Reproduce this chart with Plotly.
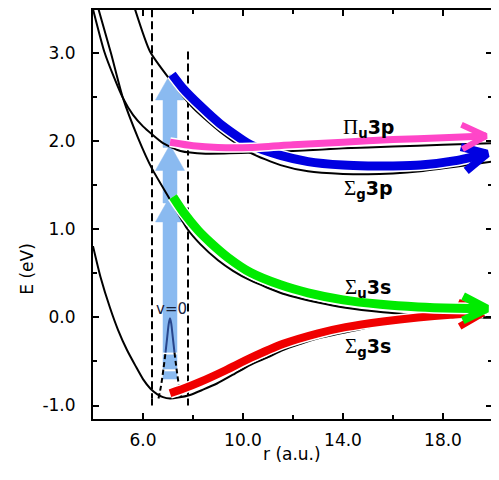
import math
import plotly.graph_objects as go

# ---------------- data ----------------
# potential curves: r (a.u.), E (eV)
r_sg3s = [4.0, 4.3, 4.68, 5.0, 5.36, 5.7, 6.0, 6.3, 6.56, 6.8, 7.08, 7.4, 7.88, 8.4, 8.96, 9.6, 10.28, 11.0, 11.6, 12.3, 12.96, 14.08, 15.6, 16.96, 18.04, 20.0]
E_sg3s = [0.81, 0.46, 0.11, -0.14, -0.37, -0.55, -0.70, -0.81, -0.87, -0.905, -0.92, -0.91, -0.88, -0.82, -0.75, -0.65, -0.54, -0.45, -0.37, -0.30, -0.24, -0.17, -0.08, -0.03, -0.01, 0.0]

r_su3s = [4.22, 4.72, 5.2, 5.8, 6.36, 7.08, 7.76, 8.3, 9.0, 9.6, 10.3, 11.6, 13.0, 14.1, 15.6, 17.0, 18.3, 20.0]
E_su3s = [3.50, 3.00, 2.49, 2.04, 1.69, 1.34, 1.01, 0.83, 0.65, 0.53, 0.42, 0.27, 0.17, 0.11, 0.06, 0.03, 0.01, 0.0]

r_pu3p = [4.0, 4.45, 4.85, 5.2, 5.6, 6.0, 6.36, 6.8, 7.5, 8.5, 10.3, 12.0, 14.0, 16.0, 18.0, 20.0]
E_pu3p = [3.50, 3.02, 2.72, 2.49, 2.30, 2.17, 2.08, 1.98, 1.89, 1.86, 1.87, 1.89, 1.92, 1.94, 1.96, 1.98]

r_sg3p = [5.68, 6.28, 7.08, 8.0, 9.08, 10.3, 11.5, 12.6, 14.0, 15.0, 16.0, 17.1, 18.5, 20.0]
E_sg3p = [3.50, 3.02, 2.70, 2.38, 2.11, 1.87, 1.73, 1.66, 1.63, 1.625, 1.635, 1.66, 1.71, 1.77]

# coloured dissociation arrows
r_blue = [7.16, 7.6, 8.3, 9.08, 10.3, 11.5, 12.6, 14.0, 15.0, 16.0, 17.1, 18.5, 19.76]
E_blue = [2.76, 2.60, 2.40, 2.20, 1.96, 1.84, 1.77, 1.73, 1.72, 1.72, 1.73, 1.78, 1.86]

r_pink = [7.08, 8.0, 9.0, 10.3, 12.0, 14.0, 16.0, 18.0, 19.72]
E_pink = [1.99, 1.95, 1.93, 1.93, 1.96, 1.99, 2.02, 2.04, 2.06]

r_green = [7.2, 7.6, 8.2, 8.7, 9.4, 10.3, 11.5, 12.6, 14.0, 15.5, 17.0, 18.5, 19.76]
E_green = [1.37, 1.20, 0.99, 0.85, 0.68, 0.51, 0.37, 0.28, 0.20, 0.15, 0.12, 0.105, 0.10]

r_red = [7.08, 7.6, 8.3, 9.3, 10.3, 11.6, 13.0, 14.1, 15.6, 17.0, 18.3, 19.6]
E_red = [-0.86, -0.81, -0.73, -0.60, -0.46, -0.30, -0.18, -0.11, -0.045, 0.0, 0.03, 0.05]

# excitation (photon) arrows
photon_r = 7.08
photon_tail_E = [-0.70, 1.30, 1.93]
photon_tip_E = [1.375, 1.96, 2.76]
band_gap_E = [-0.41, -0.60]

# v=0 vibrational wavefunction
r_wave = [6.62, 6.72, 6.82, 6.90, 6.97, 7.03, 7.08, 7.13, 7.19, 7.26, 7.34, 7.44, 7.54]
E_wave = [-0.92, -0.78, -0.58, -0.40, -0.22, -0.07, -0.01, -0.07, -0.22, -0.40, -0.58, -0.78, -0.92]

# Franck-Condon dashed lines
dash_r = [6.36, 7.8]
dash_top_E = [3.5, 3.02]
dash_mid_E = -0.92
dash_bot_E = -1.0

labels = ["Π|u|3p", "Σ|g|3p", "Σ|u|3s", "Σ|g|3s"]
label_r = [15.0, 15.0, 15.0, 15.0]
label_E = [2.15, 1.46, 0.33, -0.335]

x_ticks = [6, 10, 14, 18]
x_tick_labels = ["6.0", "10.0", "14.0", "18.0"]
y_ticks = [-1, 0, 1, 2, 3]
y_tick_labels = ["-1.0", "0.0", "1.0", "2.0", "3.0"]

# ---------------- layout constants ----------------
OFF = 8                      # page body margin of the viewer
W, H = 499 - OFF, 480 - OFF
ML, MR, MT, MB = 85, 7, 0, 61
PW, PH = W - ML - MR, H - MT - MB
XR = [4.0, 19.96]
SX = PW / (XR[1] - XR[0])
SY = 88.5
YR = [-1.153, -1.153 + PH / SY]

fig = go.Figure()

def add_line(x, y, color, width, dash="solid", shape="spline", smooth=0.6):
    fig.add_trace(go.Scatter(x=x, y=y, mode="lines", hoverinfo="skip",
                             line=dict(color=color, width=width, dash=dash,
                                       shape=shape, smoothing=smooth if shape == "spline" else None)))

# photon arrows (light blue)
LB = "rgb(138,186,240)"
sw, hw, hl = 0.28, 0.58, 0.29
for t0, t1 in zip(photon_tail_E, photon_tip_E):
    b = t1 - hl
    xs = [photon_r - sw, photon_r - sw, photon_r - hw, photon_r, photon_r + hw, photon_r + sw, photon_r + sw, photon_r - sw]
    ys = [t0, b, b, t1, b, b, t0, t0]
    fig.add_trace(go.Scatter(x=xs, y=ys, mode="lines", fill="toself", fillcolor=LB,
                             line=dict(color=LB, width=0.5), hoverinfo="skip"))
for g in band_gap_E:
    add_line([photon_r - sw - 0.02, photon_r + sw + 0.02], [g, g], "white", 2, shape="linear")

# black potential curves
for rr, ee in [(r_sg3s, E_sg3s), (r_su3s, E_su3s), (r_pu3p, E_pu3p), (r_sg3p, E_sg3p)]:
    add_line(rr, ee, "black", 2)

# dashed lines
for rr, top in zip(dash_r, dash_top_E):
    add_line([rr, rr], [top, dash_mid_E], "black", 2, dash="8px,4px", shape="linear")
    add_line([rr, rr], [dash_mid_E, dash_bot_E], "black", 2, shape="linear")

# wavefunction: dark blue upper part, dashed black lower part
up = [i for i, e in enumerate(E_wave) if e >= -0.42]
add_line([r_wave[i] for i in up], [E_wave[i] for i in up], "rgb(40,70,140)", 2)
lo_l = [i for i in range(len(E_wave)) if E_wave[i] <= -0.40 and i < 6]
lo_r = [i for i in range(len(E_wave)) if E_wave[i] <= -0.40 and i > 6]
add_line([r_wave[i] for i in lo_l], [E_wave[i] for i in lo_l], "black", 2, dash="5px,3px")
add_line([r_wave[i] for i in lo_r], [E_wave[i] for i in lo_r], "black", 2, dash="5px,3px")

def chevron(rr, ee, length=27, ang=27):
    x0, y0 = rr[-2] * SX, ee[-2] * SY
    x1, y1 = rr[-1] * SX, ee[-1] * SY
    dx, dy = x1 - x0, y1 - y0
    n = math.hypot(dx, dy)
    dx, dy = -dx / n, -dy / n
    out_x, out_y = [], []
    for s in (ang, -ang):
        a = math.radians(s)
        vx = dx * math.cos(a) - dy * math.sin(a)
        vy = dx * math.sin(a) + dy * math.cos(a)
        out_x.append((x1 + vx * length) / SX)
        out_y.append((y1 + vy * length) / SY)
    return [out_x[0], rr[-1], out_x[1]], [out_y[0], ee[-1], out_y[1]]

arrows = [(r_red, E_red, "rgb(240,0,0)", 8),
          (r_blue, E_blue, "rgb(0,0,225)", 9),
          (r_pink, E_pink, "rgb(255,70,200)", 7),
          (r_green, E_green, "rgb(0,235,0)", 9)]
for rr, ee, col, w in arrows:
    add_line(rr, ee, "white", w + 3)
    add_line(rr, ee, col, w)
    hx, hy = chevron(rr, ee)
    add_line(hx, hy, col, w - 1, shape="linear")

# ---------------- annotations ----------------
# screen positions of the plot frame
S_LEFT, S_BOTTOM = OFF + ML, OFF + H - MB

ann = []
for lab, lr, le in zip(labels, label_r, label_E):
    g, sub, rest = lab.split("|")
    txt = ("<span style='font-family:\"Liberation Serif\"; font-size:21px'>%s</span>"
           "<b><sub>%s</sub>%s</b>") % (g, sub, rest)
    ann.append(dict(x=lr, y=le, xref="x", yref="y", text=txt, showarrow=False,
                    font=dict(family="DejaVu Sans", size=19, color="black")))
ann.append(dict(x=7.12, y=0.10, xref="x", yref="y", text="v=0", showarrow=False,
                font=dict(family="DejaVu Sans", size=15, color="rgb(25,35,60)")))
ann.append(dict(x=(15 - S_LEFT) / PW, y=(S_BOTTOM - 268) / PH,
                xref="paper", yref="paper", text="E (eV)", textangle=-90, showarrow=False,
                font=dict(family="DejaVu Sans", size=17, color="black")))
ann.append(dict(x=(292 - S_LEFT) / PW, y=(S_BOTTOM - 466) / PH, xref="paper", yref="paper",
                text="r (a.u.)", showarrow=False,
                font=dict(family="DejaVu Sans", size=17, color="black")))

axis_common = dict(showline=True, linecolor="black", linewidth=2, mirror="ticks",
                   ticks="inside", ticklen=6, tickwidth=1.5, tickcolor="black",
                   showgrid=False, zeroline=False,
                   tickfont=dict(family="DejaVu Sans", size=17, color="black"))

fig.update_layout(
    width=W, height=H, margin=dict(l=ML, r=MR, t=MT, b=MB, pad=0),
    paper_bgcolor="white", plot_bgcolor="white", showlegend=False,
    annotations=ann,
    xaxis=dict(range=XR, tickvals=x_ticks, ticktext=x_tick_labels,
               minor=dict(tickvals=[8, 12, 16], ticks="inside", ticklen=4, tickcolor="black"),
               ticklabelstandoff=5, **axis_common),
    yaxis=dict(range=YR, tickvals=y_ticks, ticktext=y_tick_labels,
               minor=dict(tickvals=[-0.5, 0.5, 1.5, 2.5], ticks="inside", ticklen=4, tickcolor="black"),
               ticklabelstandoff=12, **axis_common),
)

fig.write_html("out.html")
